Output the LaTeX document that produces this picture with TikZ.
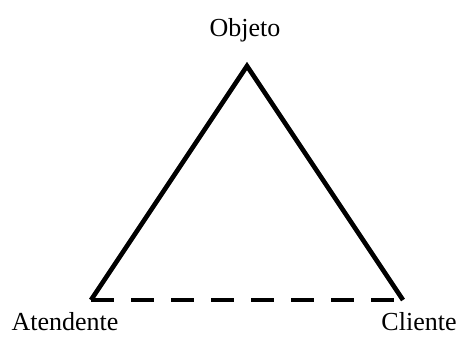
\documentclass[tikz,border=0pt]{standalone}
\usepackage{fontspec}
\setmainfont{Liberation Serif}
\begin{document}
\begin{tikzpicture}[x=1pt,y=1pt,
  edge/.style={line width=4.6pt},
  dashedge/.style={line width=4.6pt, dash pattern=on 23pt off 17pt},
  lbl/.style={font=\fontsize{26}{30}\selectfont, anchor=base, inner sep=0pt}]
\useasboundingbox (0,0) rectangle (460,338);
\coordinate (O) at (247,272);
\coordinate (A) at (91,38);
\coordinate (C) at (403,38);
\draw[edge] (A) -- (O) -- (C);
\draw[dashedge] (A) -- (C);
\node[lbl] (lo) at (245,301) {Objeto};
\node[lbl] (la) at (65,8) {Atendente};
\node[lbl] (lc) at (419,8) {Cliente};
\end{tikzpicture}
\end{document}
